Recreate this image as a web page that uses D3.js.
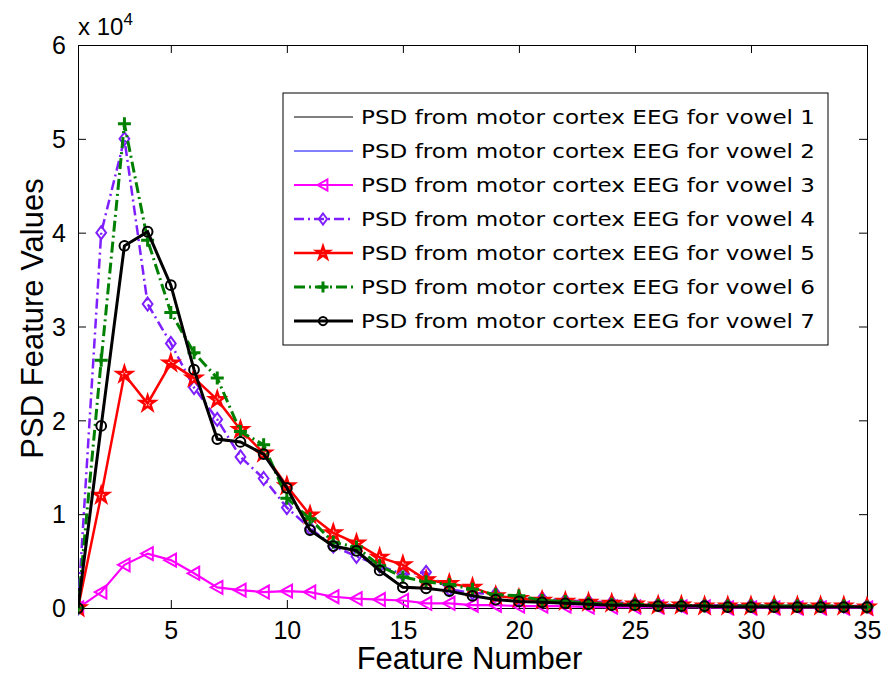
<!DOCTYPE html>
<html>
<head>
<meta charset="utf-8">
<script src="https://cdn.jsdelivr.net/npm/d3@7"></script>
<style>
  body { margin: 0; background: #fff; }
  svg text { font-family: "Liberation Sans", Arial, sans-serif; }
  .legend text { font-family: "DejaVu Sans", Verdana, sans-serif; }
</style>
</head>
<body>
<div id="chart"></div>
<script>
// values in units of 1e4, features 1..35
const features = d3.range(1, 36)
const vowel1 = [0, 1.93, 3.85, 4.0, 3.43, 2.53, 1.79, 1.77, 1.64, 1.28, 0.84, 0.66, 0.62, 0.41, 0.23, 0.21, 0.18, 0.13, 0.09, 0.07, 0.06, 0.05, 0.04, 0.03, 0.03, 0.02, 0.02, 0.02, 0.01, 0.01, 0.01, 0.01, 0.01, 0.01, 0.01]
const vowel2 = [0, 1.94, 3.86, 4.0, 3.44, 2.54, 1.8, 1.77, 1.64, 1.28, 0.83, 0.66, 0.61, 0.4, 0.22, 0.21, 0.18, 0.13, 0.09, 0.07, 0.06, 0.05, 0.04, 0.03, 0.03, 0.02, 0.02, 0.02, 0.01, 0.01, 0.01, 0.01, 0.01, 0.01, 0.01]
const vowel3 = [0, 0.17, 0.46, 0.58, 0.51, 0.37, 0.22, 0.19, 0.17, 0.18, 0.17, 0.12, 0.1, 0.09, 0.08, 0.05, 0.05, 0.03, 0.03, 0.02, 0.02, 0.02, 0.01, 0.01, 0.01, 0.01, 0.01, 0.01, 0.0, 0.0, 0.0, 0.0, 0.0, 0.0, 0.0]
const vowel4 = [0, 4.0, 5.0, 3.24, 2.82, 2.35, 2.01, 1.61, 1.38, 1.07, 0.85, 0.66, 0.55, 0.45, 0.36, 0.38, 0.2, 0.16, 0.15, 0.1, 0.1, 0.08, 0.07, 0.06, 0.05, 0.04, 0.03, 0.03, 0.03, 0.03, 0.03, 0.03, 0.03, 0.02, 0.02]
const vowel5 = [0, 1.2, 2.49, 2.18, 2.61, 2.45, 2.22, 1.9, 1.65, 1.3, 0.99, 0.8, 0.69, 0.54, 0.46, 0.3, 0.26, 0.22, 0.13, 0.1, 0.08, 0.07, 0.06, 0.05, 0.04, 0.03, 0.03, 0.02, 0.02, 0.02, 0.02, 0.02, 0.02, 0.02, 0.01]
const vowel6 = [0, 2.64, 5.16, 3.92, 3.15, 2.72, 2.45, 1.88, 1.74, 1.17, 0.95, 0.7, 0.65, 0.45, 0.33, 0.28, 0.25, 0.2, 0.14, 0.13, 0.08, 0.07, 0.05, 0.04, 0.04, 0.03, 0.03, 0.02, 0.02, 0.02, 0.02, 0.02, 0.02, 0.02, 0.01]
const vowel7 = [0, 1.94, 3.86, 4.01, 3.44, 2.54, 1.8, 1.77, 1.64, 1.28, 0.83, 0.66, 0.61, 0.4, 0.22, 0.21, 0.18, 0.13, 0.09, 0.07, 0.06, 0.05, 0.04, 0.03, 0.03, 0.02, 0.02, 0.02, 0.01, 0.01, 0.01, 0.01, 0.01, 0.01, 0.01]
const legendLabels = [1, 2, 3, 4, 5, 6, 7].map(i => "PSD from motor cortex EEG for vowel " + i)
const yTicks = [0, 1, 2, 3, 4, 5, 6]
const xTicks = [5, 10, 15, 20, 25, 30, 35]

const series = [
  { name: legendLabels[0], values: vowel1, color: "#000000", width: 1, dash: null, marker: null },
  { name: legendLabels[1], values: vowel2, color: "#0000ff", width: 1, dash: null, marker: null },
  { name: legendLabels[2], values: vowel3, color: "#ff00ff", width: 2.2, dash: null, marker: "triangle" },
  { name: legendLabels[3], values: vowel4, color: "#7f1fff", width: 2.5, dash: "10 4 2 4", marker: "diamond" },
  { name: legendLabels[4], values: vowel5, color: "#ff0000", width: 2.5, dash: null, marker: "star" },
  { name: legendLabels[5], values: vowel6, color: "#008000", width: 3, dash: "11 4 2 4", marker: "plus" },
  { name: legendLabels[6], values: vowel7, color: "#000000", width: 3, dash: null, marker: "circle" },
]

const dimensions = {
  width: 882,
  height: 679,
  margin: { top: 45, right: 15, bottom: 71, left: 78 },
}
dimensions.boundedWidth = dimensions.width - dimensions.margin.left - dimensions.margin.right
dimensions.boundedHeight = dimensions.height - dimensions.margin.top - dimensions.margin.bottom

const wrapper = d3.select("#chart").append("svg")
  .attr("width", dimensions.width)
  .attr("height", dimensions.height)

const bounds = wrapper.append("g")
  .attr("transform", `translate(${dimensions.margin.left},${dimensions.margin.top})`)

const xScale = d3.scaleLinear().domain([1, 35]).range([0, dimensions.boundedWidth])
const yScale = d3.scaleLinear().domain([0, 6]).range([dimensions.boundedHeight, 0])

// clip for data: cut at the left axis, let markers spill right/bottom
bounds.append("clipPath").attr("id", "clip")
  .append("rect").attr("x", 0).attr("y", -10)
  .attr("width", dimensions.boundedWidth + 15).attr("height", dimensions.boundedHeight + 20)

// axes (ticks inward, mirrored on top/right)
const tickLen = 8
const xAxis = bounds.append("g")
  .attr("transform", `translate(0,${dimensions.boundedHeight})`)
  .call(d3.axisBottom(xScale).tickValues(xTicks).tickSizeInner(-tickLen).tickSizeOuter(0).tickPadding(13))
const xAxisTop = bounds.append("g")
  .call(d3.axisTop(xScale).tickValues(xTicks).tickSizeInner(-tickLen).tickSizeOuter(0).tickFormat(""))
const yAxis = bounds.append("g")
  .call(d3.axisLeft(yScale).tickValues(yTicks).tickFormat(d3.format("d")).tickSizeInner(-tickLen).tickSizeOuter(0).tickPadding(12))
const yAxisRight = bounds.append("g")
  .attr("transform", `translate(${dimensions.boundedWidth},0)`)
  .call(d3.axisRight(yScale).tickValues(yTicks).tickSizeInner(-tickLen).tickSizeOuter(0).tickFormat(""))

bounds.selectAll(".domain").attr("stroke", "#000").attr("stroke-width", 1)
bounds.selectAll(".tick line").attr("stroke", "#000")
bounds.selectAll(".tick text")
  .attr("fill", "#000")
  .style("font-size", "25px")
  .style("font-family", "'Liberation Sans', Arial, sans-serif")
yAxis.selectAll(".tick text").attr("dy", "0.35em")

// exponent label
bounds.append("text")
  .attr("x", 0)
  .attr("y", -10)
  .style("font-size", "24px")
  .text("x 10")
  .append("tspan")
    .attr("dy", -10)
    .style("font-size", "17px")
    .text("4")

// axis labels
wrapper.append("text")
  .attr("x", dimensions.margin.left + dimensions.boundedWidth / 2 - 3)
  .attr("y", 669)
  .attr("text-anchor", "middle")
  .style("font-size", "31px")
  .text("Feature Number")

wrapper.append("text")
  .attr("transform", `translate(43,${dimensions.margin.top + dimensions.boundedHeight / 2 - 8}) rotate(-90)`)
  .attr("text-anchor", "middle")
  .style("font-size", "31px")
  .text("PSD Feature Values")

// markers
function drawMarker(g, type, color, size) {
  const s = size
  if (type === "circle") {
    g.append("circle").attr("r", s * 0.75).attr("fill", "none").attr("stroke", color).attr("stroke-width", 2)
  } else if (type === "diamond") {
    g.append("path").attr("d", `M0,${-s}L${s * 0.75},0L0,${s}L${-s * 0.75},0Z`)
      .attr("fill", "none").attr("stroke", color).attr("stroke-width", 2)
  } else if (type === "triangle") {
    g.append("path").attr("d", `M${-s},0L${s * 0.8},${-s}L${s * 0.8},${s}Z`)
      .attr("fill", "none").attr("stroke", color).attr("stroke-width", 2)
  } else if (type === "plus") {
    g.append("path").attr("d", `M${-s},0H${s}M0,${-s}V${s}`)
      .attr("fill", "none").attr("stroke", color).attr("stroke-width", 3)
  } else if (type === "star") {
    g.append("path").attr("d", d3.symbol(d3.symbolStar, s * s * 1.6)())
      .attr("fill", "none").attr("stroke", color).attr("stroke-width", 2.5)
  }
}

const lineGenerator = d3.line()
  .x((d, i) => xScale(features[i]))
  .y(d => yScale(d))

const data = bounds.append("g").attr("clip-path", "url(#clip)")
series.forEach(s => {
  data.append("path")
    .attr("d", lineGenerator(s.values))
    .attr("fill", "none")
    .attr("stroke", s.color)
    .attr("stroke-width", s.width)
    .attr("stroke-dasharray", s.dash)
  if (s.marker) {
    s.values.forEach((v, i) => {
      const g = data.append("g")
        .attr("transform", `translate(${xScale(features[i])},${yScale(v)})`)
      drawMarker(g, s.marker, s.color, 6.5)
    })
  }
})

// legend
const legendX = 283 - dimensions.margin.left
const legendY = 93 - dimensions.margin.top
const legendRowH = 34
const legend = bounds.append("g").attr("class", "legend")
legend.append("rect")
  .attr("x", legendX)
  .attr("y", legendY)
  .attr("width", 545)
  .attr("height", 252)
  .attr("fill", "#fff")
  .attr("stroke", "#000")
  .attr("stroke-width", 1)
series.forEach((s, i) => {
  const cy = legendY + 24 + i * legendRowH
  legend.append("line")
    .attr("x1", legendX + 11).attr("x2", legendX + 70)
    .attr("y1", cy).attr("y2", cy)
    .attr("stroke", s.color)
    .attr("stroke-width", s.width)
    .attr("stroke-dasharray", s.dash)
  if (s.marker) {
    const g = legend.append("g").attr("transform", `translate(${legendX + 40},${cy})`)
    drawMarker(g, s.marker, s.color, 5.5)
  }
  legend.append("text")
    .attr("x", legendX + 78)
    .attr("y", cy)
    .attr("dy", "0.36em")
    .style("font-size", "20px")
    .attr("textLength", 454)
    .attr("lengthAdjust", "spacingAndGlyphs")
    .attr("fill", "#000")
    .text(s.name)
})
</script>
</body>
</html>
